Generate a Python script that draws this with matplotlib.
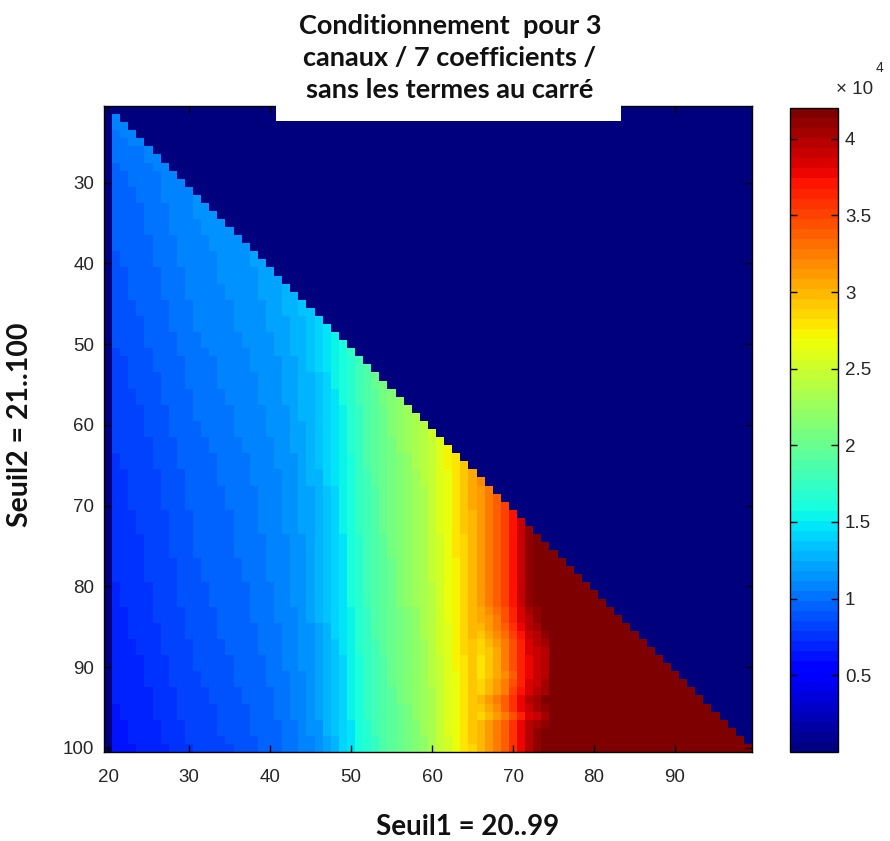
import numpy as np
import matplotlib
matplotlib.use("Agg")
import matplotlib.pyplot as plt
from matplotlib.patches import Rectangle

# Seuil1 (columns) and Seuil2 (rows)
seuil1 = np.arange(20, 100)
seuil2 = np.arange(21, 101)

# value read along the bottom row (Seuil2 = 100), x 10^4, one per Seuil1
# (4.5 = beyond the top of the colour scale, shown saturated)
col_level = [
    0.00, 0.62, 0.63, 0.65, 0.66, 0.68, 0.70, 0.72, 0.74, 0.76,   # 20-29
    0.78, 0.80, 0.81, 0.82, 0.84, 0.85, 0.87, 0.88, 0.90, 0.92,   # 30-39
    0.94, 0.96, 0.99, 1.02, 1.06, 1.10, 1.16, 1.23, 1.30, 1.38,   # 40-49
    1.48, 1.58, 1.68, 1.76, 1.84, 1.92, 2.00, 2.07, 2.14, 2.22,   # 50-59
    2.32, 2.43, 2.54, 2.64, 2.76, 2.88, 3.00, 3.12, 3.25, 3.40,   # 60-69
    3.60, 3.80, 3.98, 4.08, 4.16, 4.50, 4.50, 4.50, 4.50, 4.50,   # 70-79
    4.50, 4.50, 4.50, 4.50, 4.50, 4.50, 4.50, 4.50, 4.50, 4.50,   # 80-89
    4.50, 4.50, 4.50, 4.50, 4.50, 4.50, 4.50, 4.50, 4.50, 4.50,   # 90-99
]

# shift of each row relative to the bottom row, x 10^4, one per Seuil2
row_offset = [
    0.50, 0.47, 0.44, 0.42, 0.40, 0.38, 0.37, 0.36, 0.35, 0.34,   # 21-30
    0.33, 0.33, 0.32, 0.32, 0.31, 0.31, 0.30, 0.30, 0.29, 0.29,   # 31-40
    0.28, 0.28, 0.27, 0.27, 0.26, 0.26, 0.25, 0.25, 0.24, 0.24,   # 41-50
    0.23, 0.22, 0.22, 0.21, 0.21, 0.20, 0.20, 0.19, 0.19, 0.18,   # 51-60
    0.18, 0.17, 0.17, 0.16, 0.16, 0.15, 0.15, 0.14, 0.14, 0.14,   # 61-70
    0.13, 0.13, 0.13, 0.12, 0.12, 0.12, 0.11, 0.11, 0.11, 0.10,   # 71-80
    0.10, 0.10, 0.09, 0.09, 0.08, 0.08, 0.07, 0.07, 0.06, 0.06,   # 81-90
    0.05, 0.05, 0.04, 0.04, 0.03, 0.03, 0.02, 0.02, 0.01, 0.00,   # 91-100
]

# extra shift of the orange/red front (Seuil1 ~ 66-75) per row, x 10^4
front_offset = [0.0] * 62 + [
    -0.04, -0.07, -0.10,                 # 83-85
    -0.16, -0.20, -0.24, -0.24, -0.24,   # 86-90
    -0.24, -0.20, -0.16, -0.06, -0.08,   # 91-95
    -0.18, -0.05, -0.03, -0.02, 0.00,    # 96-100
]

xticks = [20, 30, 40, 50, 60, 70, 80, 90]
yticks = [30, 40, 50, 60, 70, 80, 90, 100]
cbar_ticks = [0.5, 1, 1.5, 2, 2.5, 3, 3.5, 4]

col = np.array(col_level)
row = np.array(row_offset)
front = np.array(front_offset)
cond = row[:, None] + col[None, :] + front[:, None] * (col >= 2.9)[None, :]
cond[:, col == 0] = 0
# only Seuil2 > Seuil1 is computed
cond[seuil2[:, None] <= seuil1[None, :]] = 0

W, H = 890, 841
fig = plt.figure(figsize=(W / 100, H / 100), dpi=100)
ax = fig.add_axes([104 / W, 1 - 752 / H, 648 / W, 646 / H])
cax = fig.add_axes([790 / W, 1 - 752 / H, 48 / W, 644 / H])

cmap = plt.get_cmap("jet", 64)
im = ax.imshow(cond, cmap=cmap, vmin=0, vmax=4.2, aspect="auto",
               interpolation="nearest",
               extent=[seuil1[0] - 0.5, seuil1[-1] + 0.5, seuil2[-1] + 0.5, seuil2[0] - 0.5])

tick_font = dict(family="Liberation Sans", size=13.5, color="#262626")
ax.set_xticks(xticks)
ax.set_yticks(yticks)
ax.set_xticklabels([str(t) for t in xticks], **tick_font)
ax.set_yticklabels([str(t) for t in yticks], **tick_font)
ax.tick_params(axis="x", direction="in", length=5, width=1, top=True, pad=12)
ax.tick_params(axis="y", direction="in", length=5, width=1, right=True, pad=7)
for s in ax.spines.values():
    s.set_linewidth(1)

cb = fig.colorbar(im, cax=cax)
cb.set_ticks(cbar_ticks)
cb.set_ticklabels(["0.5", "1", "1.5", "2", "2.5", "3", "3.5", "4"])
for t in cax.get_yticklabels():
    t.set_fontfamily("Liberation Sans")
    t.set_fontsize(13.5)
    t.set_color("#262626")
cax.tick_params(direction="in", length=5, width=1, left=True, right=True, pad=5)
cb.outline.set_linewidth(1)

fig.text(836 / W, 1 - 89 / H, "× 10", fontsize=13.5, family="Liberation Sans",
         color="#262626", ha="left", va="center")
fig.text(876 / W, 1 - 68 / H, "4", fontsize=10, family="Liberation Sans",
         color="#262626", ha="left", va="center")

# white title box laid over the top of the plot
fig.patches.append(Rectangle((276 / W, 1 - 121 / H), 345 / W, 121 / H,
                             transform=fig.transFigure, facecolor="white",
                             edgecolor="none", zorder=5))
title_font = dict(family="Lato", weight="bold", color="#111111")
fig.text(450 / W, 1 - 58 / H,
         "Conditionnement  pour 3\ncanaux / 7 coefficients /\nsans les termes au carré",
         ha="center", va="center", linespacing=1.4, size=19.5, zorder=6, **title_font)

fig.text(468 / W, 1 - 827 / H, "Seuil1 = 20..99", ha="center", va="center",
         size=20, **title_font)
fig.text(20 / W, 1 - 425 / H, "Seuil2 = 21..100", ha="center", va="center",
         rotation=90, size=20.5, **title_font)

fig.savefig("out.png", dpi=100)
